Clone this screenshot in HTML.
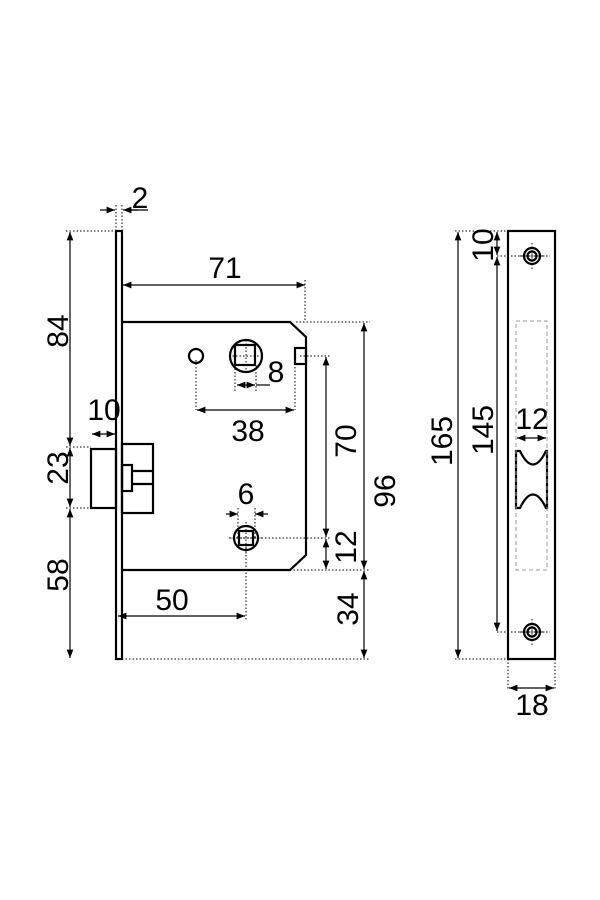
<!DOCTYPE html>
<html><head><style>body{margin:0;background:#fff}svg{display:block}text{font-family:"Liberation Sans",sans-serif;font-size:30px;fill:#000}</style></head>
<body>
<svg width="600" height="900" viewBox="0 0 600 900" xmlns="http://www.w3.org/2000/svg">
<defs>
<marker id="a" viewBox="0 0 10 10" refX="10" refY="5" markerWidth="7" markerHeight="7" orient="auto-start-reverse"><path d="M0,1L10,5L0,9z" fill="#000"/></marker>
</defs>
<g fill="none" stroke="#000" stroke-width="2.2">
<rect x="116" y="231" width="6" height="428"/>
<path d="M122,322H290L306,337V555L290,570H122"/>
<circle cx="196" cy="356" r="7"/>
<circle cx="246" cy="356" r="16"/>
<rect x="235" y="345" width="20" height="20"/>
<rect x="295" y="348" width="11" height="16"/>
<rect x="91" y="449" width="25" height="59"/>
<rect x="122" y="444" width="31" height="69"/>
<rect x="122" y="465" width="10" height="26"/>
<path d="M132,471H152M132,484H152"/>
<circle cx="246" cy="538" r="12"/>
<rect x="239" y="531" width="14" height="14"/>
<rect x="508" y="231" width="47" height="428"/>
<circle cx="532" cy="256" r="8"/><circle cx="532" cy="256" r="4.5"/>
<circle cx="532" cy="632" r="8"/><circle cx="532" cy="632" r="4.5"/>
<path d="M516,451H520Q533,478 546,451H547V508H546Q533,481 520,508H516Z"/>
</g>
<g fill="none" stroke="#000" stroke-width="1" stroke-dasharray="1.5,2">
<path d="M116,205V231M122,205V231M66,231H116"/>
<path d="M305,280V322M296,322H370M300,356H330M196,360V410M295,360V410M235,365V392M256,365V392"/>
<path d="M66,447H91M66,508H91M238,508V538M255,508V538M230,538H330M290,570H370M246,548V620"/>
<path d="M122,659H370M455,231H508M455,659H508M497,256H550M497,632H550"/>
<path d="M508,659V690M555,659V690"/>
<path d="M229,356H262M246,340V372M229,538H262M246,522V554"/>
<path d="M520,256H545M532,243V270M520,632H545M532,619V645"/>
</g>
<rect x="516" y="321" width="31" height="249" fill="none" stroke="#999" stroke-width="1" stroke-dasharray="4,3"/>
<g stroke="#000" stroke-width="1.2" marker-start="url(#a)" marker-end="url(#a)">
<line x1="123" y1="285" x2="305" y2="285"/>
<line x1="70" y1="232" x2="70" y2="446"/>
<line x1="70" y1="448" x2="70" y2="507"/>
<line x1="70" y1="509" x2="70" y2="658"/>
<line x1="92" y1="434" x2="115" y2="434"/>
<line x1="237" y1="385" x2="255" y2="385"/>
<line x1="197" y1="410" x2="294" y2="410"/>
<line x1="326" y1="357" x2="326" y2="537"/>
<line x1="326" y1="539" x2="326" y2="569"/>
<line x1="364" y1="323" x2="364" y2="569"/>
<line x1="364" y1="571" x2="364" y2="658"/>
<line x1="118" y1="616" x2="245" y2="616"/>
<line x1="458" y1="232" x2="458" y2="658"/>
<line x1="497" y1="232" x2="497" y2="255"/>
<line x1="497" y1="257" x2="497" y2="631"/>
<line x1="517" y1="438" x2="546" y2="438"/>
<line x1="509" y1="688" x2="554" y2="688"/>
</g>
<g stroke="#000" stroke-width="1.2">
<line x1="100" y1="210" x2="115" y2="210" marker-end="url(#a)"/>
<line x1="138" y1="210" x2="123" y2="210" marker-end="url(#a)"/>
<line x1="128" y1="210" x2="148" y2="210"/>
<line x1="256" y1="385" x2="270" y2="385"/>
<line x1="226" y1="514" x2="238" y2="514" marker-end="url(#a)"/>
<line x1="268" y1="514" x2="255" y2="514" marker-end="url(#a)"/>
</g>
<text x="140" y="208" text-anchor="middle">2</text>
<text x="225" y="278" text-anchor="middle">71</text>
<text x="276" y="382" text-anchor="middle">8</text>
<text x="248" y="441" text-anchor="middle">38</text>
<text x="104" y="420" text-anchor="middle">10</text>
<text x="246" y="504" text-anchor="middle">6</text>
<text x="172" y="610" text-anchor="middle">50</text>
<text x="532" y="429" text-anchor="middle">12</text>
<text x="532" y="715" text-anchor="middle">18</text>
<text transform="translate(68,331) rotate(-90)" text-anchor="middle">84</text>
<text transform="translate(68,468) rotate(-90)" text-anchor="middle">23</text>
<text transform="translate(68,575) rotate(-90)" text-anchor="middle">58</text>
<text transform="translate(356,441) rotate(-90)" text-anchor="middle">70</text>
<text transform="translate(395,491) rotate(-90)" text-anchor="middle">96</text>
<text transform="translate(356,547) rotate(-90)" text-anchor="middle">12</text>
<text transform="translate(358,609) rotate(-90)" text-anchor="middle">34</text>
<text transform="translate(452,441) rotate(-90)" text-anchor="middle">165</text>
<text transform="translate(493,430) rotate(-90)" text-anchor="middle">145</text>
<text transform="translate(493,245) rotate(-90)" text-anchor="middle">10</text>
</svg>
</body></html>
